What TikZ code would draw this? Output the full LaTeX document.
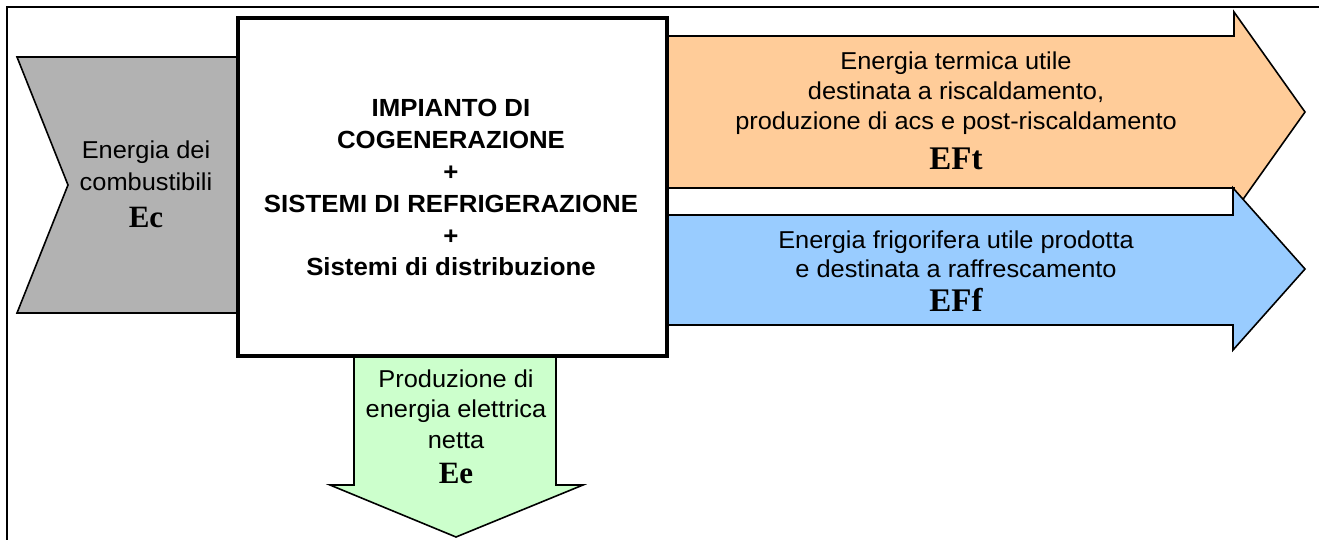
\documentclass[tikz,border=0pt]{standalone}
\usepackage{fontspec}
\setmainfont{Liberation Sans}[FakeStretch=1.04]
\newfontfamily\tnr{Liberation Serif}
\definecolor{greyfill}{RGB}{178,178,178}
\definecolor{orangefill}{RGB}{255,204,153}
\definecolor{bluefill}{RGB}{153,204,255}
\definecolor{greenfill}{RGB}{204,255,204}
\tikzset{
  x=1pt, y=-1pt,
  arrowshape/.style={draw=black, line width=1.6pt, line join=miter},
  txt/.style={anchor=base, inner sep=0pt, font=\fontsize{24.4}{30}\selectfont},
  btxt/.style={anchor=base, inner sep=0pt, font=\fontsize{24.8}{30}\selectfont\bfseries},
  sym/.style={anchor=base, inner sep=0pt, font=\fontsize{33}{36}\selectfont\tnr\bfseries},
  ssym/.style={anchor=base, inner sep=0pt, font=\fontsize{31}{36}\selectfont\tnr\bfseries},
}
\begin{document}
\begin{tikzpicture}
\useasboundingbox (0,0) rectangle (1319,540);
% outer frame (partially visible)
\draw[line width=2.6pt] (7,545) -- (7,7) -- (1325,7);
% grey input arrow
\draw[arrowshape, fill=greyfill] (17,57) -- (250,57) -- (250,313) -- (17,313) -- (68,185) -- cycle;
% orange output arrow
\draw[arrowshape, fill=orangefill] (655,36) -- (1234,36) -- (1234,12) -- (1305,112) -- (1234,212) -- (1234,188) -- (655,188) -- cycle;
% blue output arrow
\draw[arrowshape, fill=bluefill] (655,215) -- (1233,215) -- (1233,188) -- (1305,269) -- (1233,350) -- (1233,325) -- (655,325) -- cycle;
% green output arrow
\draw[arrowshape, fill=greenfill] (354,340) -- (556,340) -- (556,485) -- (583,485) -- (456,537) -- (330,485) -- (354,485) -- cycle;
% central box
\node[draw=black, fill=white, line width=4pt, minimum width=429pt, minimum height=338pt, anchor=north west, inner sep=0pt] (box) at (236,16) {};
% central texts
\node[btxt] (c1) at (451,117) {IMPIANTO DI};
\node[btxt] (c2) at (451,149) {COGENERAZIONE};
\node[btxt] (c3) at (451,181) {+};
\node[btxt] (c4) at (451,212) {SISTEMI DI REFRIGERAZIONE};
\node[btxt] (c5) at (451,244) {+};
\node[btxt] (c6) at (451,275) {Sistemi di distribuzione};
% grey texts
\node[txt] (g1) at (146,159) {Energia dei};
\node[txt] (g2) at (146,190) {combustibili};
\node[ssym] (g3) at (146,227) {Ec};
% orange texts
\node[txt] (o1) at (956,70) {Energia termica utile};
\node[txt] (o2) at (956,100) {destinata a riscaldamento,};
\node[txt] (o3) at (956,130) {produzione di acs e post-riscaldamento};
\node[sym] (o4) at (956,170) {EFt};
% blue texts
\node[txt] (b1) at (956,248) {Energia frigorifera utile prodotta};
\node[txt] (b2) at (956,277) {e destinata a raffrescamento};
\node[sym] (b3) at (956,311) {EFf};
% green texts
\node[txt] (e1) at (456,387) {Produzione di};
\node[txt] (e2) at (456,417) {energia elettrica};
\node[txt] (e3) at (456,448) {netta};
\node[ssym] (e4) at (456,483) {Ee};
\end{tikzpicture}
\end{document}
